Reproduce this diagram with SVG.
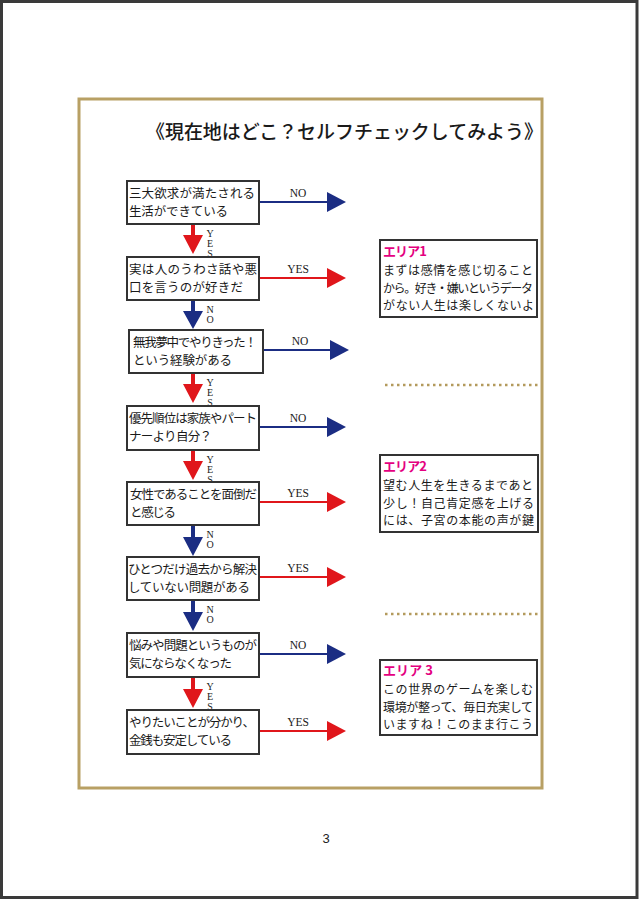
<svg xmlns="http://www.w3.org/2000/svg" width="640" height="900" viewBox="0 0 640 900">
<style>
.jp{font-family:"Noto Sans CJK JP","Noto Sans",sans-serif;fill:#1a1a1a}
.box{fill:#fff;stroke:#333;stroke-width:2}
.q{font-size:12.5px}
.a{font-size:12px}
.lbl{font-family:"Liberation Serif",serif;font-size:11.5px;fill:#1a1a1a;text-anchor:middle}
.vl{font-family:"Liberation Serif",serif;font-size:10px;fill:#1a1a1a;writing-mode:vertical-rl;text-orientation:upright;letter-spacing:-1px}
.blue{stroke:#1b2d83;stroke-width:2;fill:none}
.red{stroke:#e0161b;stroke-width:2;fill:none}
.bf{fill:#1b2d83}
.rf{fill:#e0161b}
.at{font-family:"Noto Sans CJK JP",sans-serif;font-weight:bold;font-size:13px;fill:#e4007f}
.dot{stroke:#b39a5c;stroke-width:2.5;stroke-dasharray:2.5 3.5}
</style>
<defs>
<marker id="hb" markerUnits="userSpaceOnUse" markerWidth="19" markerHeight="20" refX="0" refY="10" orient="auto"><path d="M0,0L19,10L0,20z" fill="#1b2d83"/></marker>
<marker id="hr" markerUnits="userSpaceOnUse" markerWidth="19" markerHeight="20" refX="0" refY="10" orient="auto"><path d="M0,0L19,10L0,20z" fill="#e0161b"/></marker>
</defs>
<rect x="0" y="0" width="640" height="900" fill="#fff"/>
<rect x="1.5" y="1.5" width="635.5" height="896" fill="none" stroke="#3a3a3a" stroke-width="3"/>
<rect x="79" y="99" width="463" height="689" fill="none" stroke="#b8a064" stroke-width="3"/>
<text class="jp" x="146" y="139" font-size="19" font-weight="500" textLength="397" lengthAdjust="spacingAndGlyphs">《現在地はどこ？セルフチェックしてみよう》</text>

<g id="connectors">
<line class="blue" x1="259" y1="202" x2="327" y2="202" marker-end="url(#hb)"/>
<line class="red" x1="259" y1="278" x2="327" y2="278" marker-end="url(#hr)"/>
<line class="blue" x1="263" y1="350" x2="330" y2="350" marker-end="url(#hb)"/>
<line class="blue" x1="259" y1="427" x2="327" y2="427" marker-end="url(#hb)"/>
<line class="red" x1="259" y1="502" x2="327" y2="502" marker-end="url(#hr)"/>
<line class="red" x1="259" y1="577" x2="327" y2="577" marker-end="url(#hr)"/>
<line class="blue" x1="259" y1="654" x2="327" y2="654" marker-end="url(#hb)"/>
<line class="red" x1="259" y1="731" x2="327" y2="731" marker-end="url(#hr)"/>
<text class="lbl" x="298" y="197">NO</text>
<text class="lbl" x="298" y="273">YES</text>
<text class="lbl" x="300" y="345">NO</text>
<text class="lbl" x="298" y="422">NO</text>
<text class="lbl" x="298" y="497">YES</text>
<text class="lbl" x="298" y="572">YES</text>
<text class="lbl" x="298" y="649">NO</text>
<text class="lbl" x="298" y="726">YES</text>
<path class="rf" d="M191,223h4v12h8l-10,19l-10,-19h8z"/>
<path class="bf" d="M191,299h4v12h8l-10,18l-10,-18h8z"/>
<path class="rf" d="M191,372h4v12h8l-10,19l-10,-19h8z"/>
<path class="rf" d="M191,449h4v12h8l-10,19l-10,-19h8z"/>
<path class="bf" d="M191,524h4v13h8l-10,19l-10,-19h8z"/>
<path class="bf" d="M191,599h4v13h8l-10,19l-10,-19h8z"/>
<path class="rf" d="M191,676h4v13h8l-10,19l-10,-19h8z"/>
<text class="vl" x="210" y="228">YES</text>
<text class="vl" x="210" y="304">NO</text>
<text class="vl" x="210" y="377">YES</text>
<text class="vl" x="210" y="454">YES</text>
<text class="vl" x="210" y="529">NO</text>
<text class="vl" x="210" y="604">NO</text>
<text class="vl" x="210" y="681">YES</text>
</g>

<g id="q1"><rect class="box" x="127" y="181" width="132" height="43"/>
<text class="jp q" x="129" y="198" textLength="126">三大欲求が満たされる</text>
<text class="jp q" x="129" y="216" textLength="99">生活ができている</text></g>
<g id="q2"><rect class="box" x="127" y="257" width="132" height="43"/>
<text class="jp q" x="129" y="274" textLength="128">実は人のうわさ話や悪</text>
<text class="jp q" x="129" y="292" textLength="114">口を言うのが好きだ</text></g>
<g id="q3"><rect class="box" x="129" y="330" width="134" height="43"/>
<text class="jp q" x="133" y="347" textLength="124">無我夢中でやりきった！</text>
<text class="jp q" x="133" y="365" textLength="99">という経験がある</text></g>
<g id="q4"><rect class="box" x="127" y="406" width="132" height="44"/>
<text class="jp q" x="129" y="423" textLength="128">優先順位は家族やパート</text>
<text class="jp q" x="129" y="441" textLength="83">ナーより自分？</text></g>
<g id="q5"><rect class="box" x="127" y="482" width="132" height="43"/>
<text class="jp q" x="130" y="499" textLength="127">女性であることを面倒だ</text>
<text class="jp q" x="130" y="517" textLength="46">と感じる</text></g>
<g id="q6"><rect class="box" x="127" y="557" width="132" height="43"/>
<text class="jp q" x="128" y="574" textLength="129">ひとつだけ過去から解決</text>
<text class="jp q" x="128" y="592" textLength="122">していない問題がある</text></g>
<g id="q7"><rect class="box" x="127" y="633" width="132" height="44"/>
<text class="jp q" x="129" y="650" textLength="128">悩みや問題というものが</text>
<text class="jp q" x="129" y="668" textLength="103">気にならなくなった</text></g>
<g id="q8"><rect class="box" x="127" y="710" width="132" height="44"/>
<text class="jp q" x="129" y="727" textLength="126">やりたいことが分かり、</text>
<text class="jp q" x="129" y="745" textLength="103">金銭も安定している</text></g>

<g id="area1"><rect class="box" x="380" y="240" width="157" height="77"/>
<text class="at" x="383" y="256" textLength="44">エリア1</text>
<text class="jp a" x="383" y="275" textLength="150">まずは感情を感じ切ること</text>
<text class="jp a" x="383" y="292.5" textLength="150">から。好き・嫌いというデータ</text>
<text class="jp a" x="383" y="310" textLength="151">がない人生は楽しくないよ</text></g>
<line class="dot" x1="385" y1="385" x2="541" y2="385"/>
<g id="area2"><rect class="box" x="380" y="455" width="158" height="77"/>
<text class="at" x="383" y="471" textLength="44">エリア2</text>
<text class="jp a" x="383" y="490" textLength="150">望む人生を生きるまであと</text>
<text class="jp a" x="383" y="507.5" textLength="151">少し！自己肯定感を上げる</text>
<text class="jp a" x="383" y="525" textLength="151">には、子宮の本能の声が鍵</text></g>
<line class="dot" x1="385" y1="614" x2="541" y2="614"/>
<g id="area3"><rect class="box" x="380" y="660" width="157" height="75"/>
<text class="at" x="383" y="675" textLength="50">エリア 3</text>
<text class="jp a" x="383" y="694" textLength="150">この世界のゲームを楽しむ</text>
<text class="jp a" x="383" y="711.5" textLength="150">環境が整って、毎日充実して</text>
<text class="jp a" x="383" y="729" textLength="150">いますね！このまま行こう</text></g>

<text x="326" y="843" font-family="Liberation Sans,sans-serif" font-size="13" fill="#222" text-anchor="middle">3</text>
</svg>
